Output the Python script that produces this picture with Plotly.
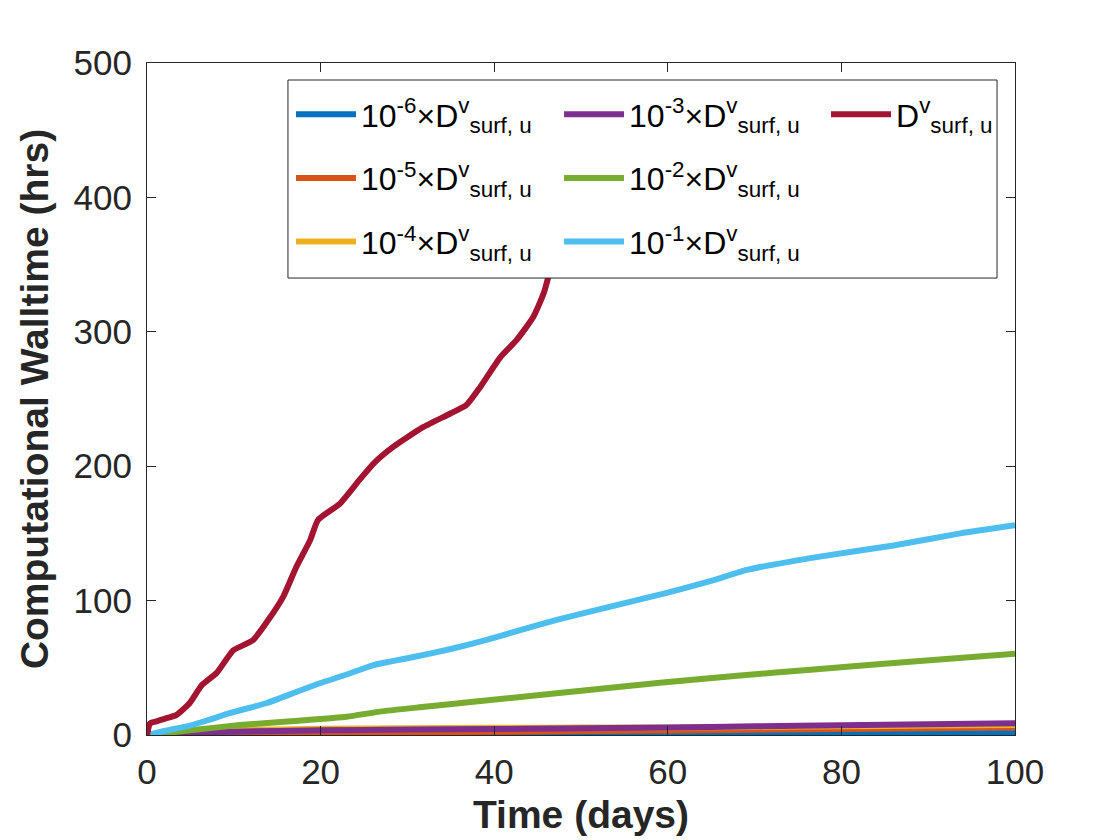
import plotly.graph_objects as go

# ---- data ----
red_x = [0, 0.35, 1, 2, 3.4, 4.95, 6.3, 8, 9.95, 12.2, 13.8, 15.7, 17.2, 18.8, 19.7, 22.2, 24.5,
         26.1, 28.4, 31.8, 34.9, 36.8, 38.4, 40.7, 42.6, 44.5, 45.7, 46.2, 47, 48, 49.5, 51]
red_y = [0, 8.7, 10, 12, 15, 24, 37, 46, 63, 70.5, 84, 103, 125, 145, 160, 172, 190,
         202, 214.5, 229, 239, 245.5, 259, 281, 294, 311, 328.6, 340, 362, 388, 425, 465]

lblue_x = [0, 2, 4.95, 7, 9.6, 13.8, 17.2, 19.9, 23, 26.1, 30.7, 35, 39.1, 43, 47.2, 54.1,
           60, 65.2, 69.1, 77.5, 86, 93.7, 100]
lblue_y = [0, 3, 7, 11, 16.4, 23.8, 32, 38.5, 45, 52, 58, 64, 70.7, 78, 85.6, 96.7,
           106, 115, 122.8, 132.7, 141, 150, 156]

green_x = [0, 5, 10.7, 17, 23, 26.8, 32, 37.6, 47.2, 59.1, 68, 76.8, 87.9, 100]
green_y = [0, 3.5, 7.4, 10.5, 13.6, 17.4, 21, 24.8, 31, 38.9, 44, 48.8, 54.5, 60.5]

purple_x = [0, 5, 10, 20, 30, 40, 47, 60, 70, 80, 90, 100]
purple_y = [0, 1.5, 2.5, 3.5, 4.0, 4.4, 4.8, 5.6, 6.5, 7.3, 8.0, 8.7]

yellow_x = [0, 5, 10, 20, 30, 40, 50, 60, 70, 80, 90, 100]
yellow_y = [0, 2.5, 3.6, 4.6, 5.0, 5.4, 5.5, 5.6, 6.0, 6.5, 7.0, 7.5]

orange_x = [0, 20, 40, 60, 80, 100]
orange_y = [0, 1.5, 2.4, 3.4, 4.4, 5.6]

blue_x = [0, 20, 40, 60, 80, 100]
blue_y = [0, 0.5, 0.8, 1.0, 1.2, 1.4]

x_ticks = [0, 20, 40, 60, 80, 100]
y_ticks = [0, 100, 200, 300, 400, 500]

def lbl(p):
    base = "D<sup>v</sup><sub>surf, u</sub>"
    return base if p is None else f"10<sup>{p}</sup>×" + base

# (x, y, colour, label, legend column)
series = [
    (blue_x, blue_y, "#0072BD", lbl(-6), "legend"),
    (orange_x, orange_y, "#D95319", lbl(-5), "legend"),
    (yellow_x, yellow_y, "#EDB120", lbl(-4), "legend"),
    (purple_x, purple_y, "#7E2F8E", lbl(-3), "legend2"),
    (green_x, green_y, "#77AC30", lbl(-2), "legend2"),
    (lblue_x, lblue_y, "#4DBEEE", lbl(-1), "legend2"),
    (red_x, red_y, "#A2142F", lbl(None), "legend3"),
]

fig = go.Figure()
for i, (xs, ys, col, name, leg) in enumerate(series):
    fig.add_trace(go.Scatter(x=xs, y=ys, mode="lines", name=name,
                             line=dict(color=col, width=6, shape="spline", smoothing=0.5),
                             legend=leg, legendgroup=f"g{i}"))

FONT = "Liberation Sans, Arial, Helvetica, sans-serif"
axis_common = dict(showline=True, linecolor="#262626", linewidth=1, mirror="ticks",
                   ticks="inside", ticklen=9, tickcolor="#262626", showgrid=False,
                   zeroline=False, tickfont=dict(family=FONT, size=35, color="#262626"))

leg_common = dict(orientation="v", xanchor="left", yanchor="top", y=0.9643,
                  bgcolor="rgba(0,0,0,0)", borderwidth=0,
                  font=dict(family=FONT, size=32, color="black"),
                  itemwidth=60, traceorder="grouped", tracegroupgap=19)

fig.update_layout(
    width=1120, height=840,
    paper_bgcolor="white", plot_bgcolor="white",
    margin=dict(l=139, r=113, t=55, b=113),
    xaxis=dict(range=[0, 100], tickvals=x_ticks, ticklabelstandoff=6, **axis_common,
               title=dict(text="<b>Time (days)</b>", font=dict(family=FONT, size=39, color="#262626"),
                          standoff=10)),
    yaxis=dict(range=[0, 500], tickvals=y_ticks, ticklabelstandoff=7, **axis_common,
               title=dict(text="<b>Computational Walltime (hrs)</b>",
                          font=dict(family=FONT, size=39, color="#262626"), standoff=12)),
    legend=dict(x=0.1659, **leg_common),
    legend2=dict(x=0.4747, **leg_common),
    legend3=dict(x=0.7823, **leg_common),
    shapes=[dict(type="rect", xref="paper", yref="paper", x0=0.1624, x1=0.9793,
                 y0=0.680, y1=0.9747, fillcolor="white",
                 line=dict(color="#262626", width=1), layer="above")],
    showlegend=True,
)

fig.write_html("out.html")
